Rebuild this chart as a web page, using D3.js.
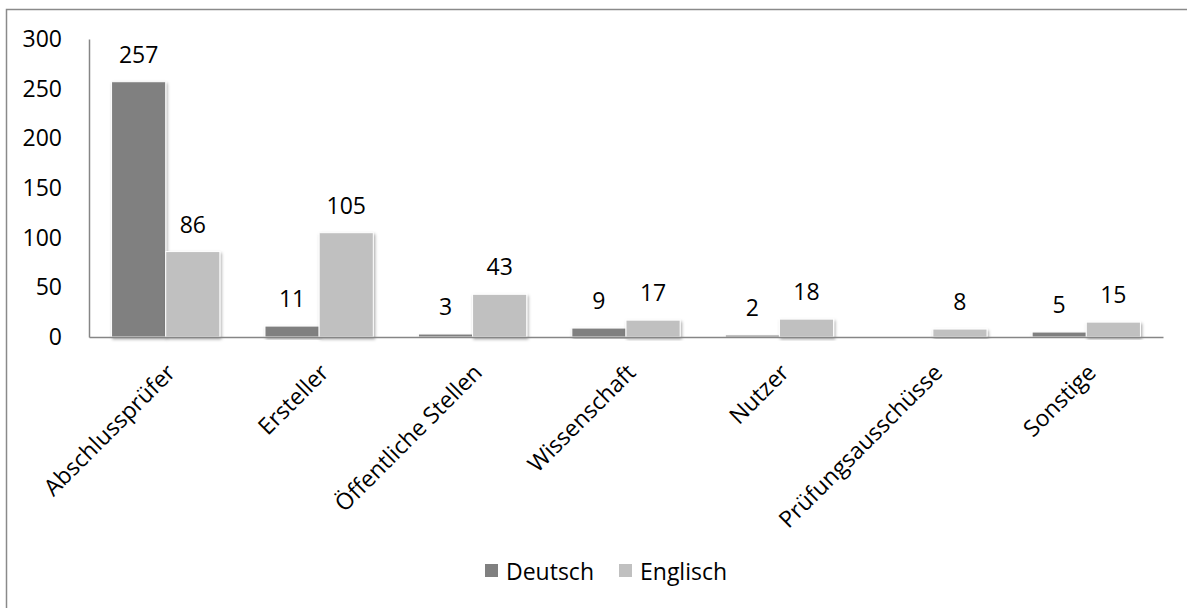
<!DOCTYPE html>
<html>
<head>
<meta charset="utf-8">
<script src="https://cdn.jsdelivr.net/npm/d3@7"></script>
<style>
  html, body { margin: 0; padding: 0; background: #fff; }
  svg { display: block; font-family: "Open Sans", "Noto Sans", sans-serif; }
</style>
</head>
<body>
<svg id="chart" width="1187" height="608"></svg>
<script>
// Respondents by group, split by language of the submission
const categories = ["Abschlussprüfer", "Ersteller", "Öffentliche Stellen", "Wissenschaft", "Nutzer", "Prüfungsausschüsse", "Sonstige"];
const seriesNames = ["Deutsch", "Englisch"];
const deutsch = [257, 11, 3, 9, 2, 0, 5];
const englisch = [86, 105, 43, 17, 18, 8, 15];
const yTicks = [0, 50, 100, 150, 200, 250, 300];
const seriesColors = ["#808080", "#c0c0c0"];

const rows = categories.map((c, i) => ({ cat: c, values: [deutsch[i], englisch[i]] }));

const svg = d3.select("#chart");
const fontSize = 23;

// outer frame
svg.append("rect")
  .attr("x", 6.5).attr("y", 9.5)
  .attr("width", 1300).attr("height", 800)
  .attr("fill", "none").attr("stroke", "#8a8a8a").attr("stroke-width", 1.5);

const plot = { left: 89, right: 1163, top: 39, bottom: 337 };

const x = d3.scaleBand().domain(categories).range([plot.left, plot.right]).padding(0);
const inner = d3.scaleBand().domain([0, 1])
  .range([x.bandwidth() * 0.147, x.bandwidth() * 0.853]).padding(0);
const y = d3.scaleLinear().domain([0, 300]).range([plot.bottom, plot.top]);

const defs = svg.append("defs");
const f = defs.append("filter").attr("id", "shadow")
  .attr("x", "-20%").attr("y", "-20%").attr("width", "140%").attr("height", "140%");
f.append("feDropShadow").attr("dx", 1.2).attr("dy", 1.8).attr("stdDeviation", 1.4)
  .attr("flood-color", "#000").attr("flood-opacity", 0.35);

// y axis labels (no tick marks)
const yAxis = d3.axisLeft(y).tickValues(yTicks).tickSize(0).tickPadding(27);
const gy = svg.append("g").attr("transform", `translate(${plot.left},0)`).call(yAxis);
gy.select(".domain").attr("stroke", "#868686").attr("stroke-width", 1.5);
gy.selectAll("text").attr("font-size", fontSize).attr("fill", "#000")
  .attr("font-family", "'Open Sans', sans-serif");

// bars
const groups = svg.append("g").selectAll("g").data(rows).join("g")
  .attr("transform", d => `translate(${x(d.cat)},0)`);

groups.selectAll("rect").data(d => d.values.map((v, s) => ({ v, s }))).join("rect")
  .attr("x", d => inner(d.s))
  .attr("width", inner.bandwidth())
  .attr("y", d => y(d.v))
  .attr("height", d => y(0) - y(d.v))
  .attr("fill", d => seriesColors[d.s])
  .attr("stroke", "#fff").attr("stroke-width", 1)
  .attr("filter", "url(#shadow)");

// value labels (zero values are not labelled)
groups.selectAll("text.val").data(d => d.values.map((v, s) => ({ v, s })).filter(d => d.v > 0)).join("text")
  .attr("class", "val")
  .attr("x", d => inner(d.s) + inner.bandwidth() / 2)
  .attr("y", d => y(d.v) - 19)
  .attr("text-anchor", "middle")
  .attr("font-size", fontSize)
  .attr("fill", "#000")
  .text(d => d.v);

// x axis
const xAxis = d3.axisBottom(x).tickSize(0).tickFormat("");
const gx = svg.append("g").attr("transform", `translate(0,${plot.bottom})`).call(xAxis);
gx.select(".domain").attr("stroke", "#868686").attr("stroke-width", 1.5);

// rotated category labels
svg.append("g").selectAll("text").data(categories).join("text")
  .attr("transform", d => `translate(${x(d) + x.bandwidth() / 2 + 11},${plot.bottom + 37}) rotate(-45)`)
  .attr("text-anchor", "end")
  .attr("font-size", fontSize)
  .attr("fill", "#000")
  .text(d => d);

// legend
const legend = svg.append("g").attr("transform", "translate(485,0)");
let lx = 0;
seriesNames.forEach((name, i) => {
  const item = legend.append("g").attr("transform", `translate(${lx},0)`);
  item.append("rect").attr("x", 0).attr("y", 564).attr("width", 13).attr("height", 13)
    .attr("fill", seriesColors[i]);
  const t = item.append("text").attr("x", 21).attr("y", 580)
    .attr("font-size", fontSize).attr("fill", "#000").text(name);
  lx += 21 + t.node().getComputedTextLength() + 25;
});
</script>
</body>
</html>
